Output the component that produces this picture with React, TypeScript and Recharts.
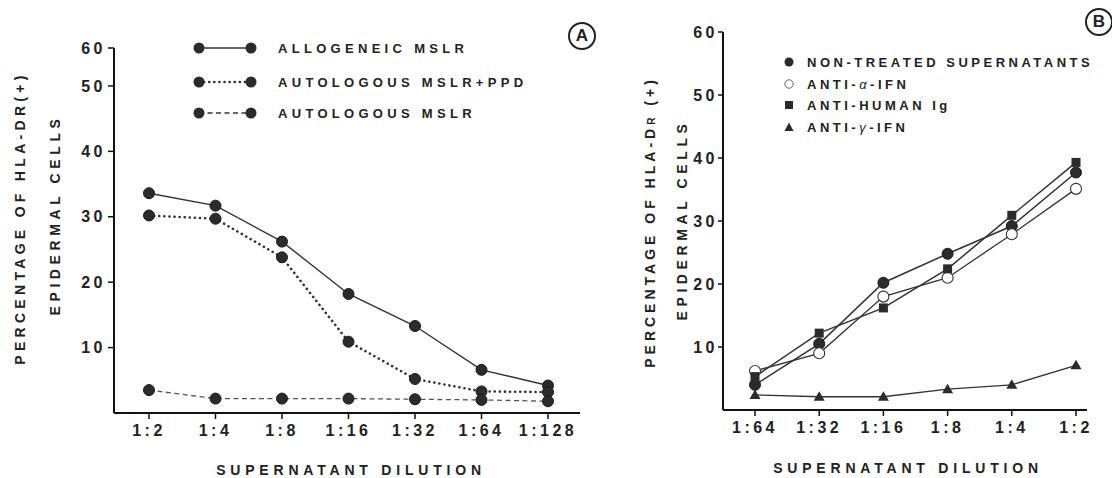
import React from 'react';
import { LineChart, Line, XAxis, YAxis } from 'recharts';

// ---------- Panel A data ----------
const dilutionsA = ['1:2', '1:4', '1:8', '1:16', '1:32', '1:64', '1:128'];
const allogeneicMSLR = [33.6, 31.7, 26.2, 18.2, 13.3, 6.6, 4.2];
const autologousPPD = [30.2, 29.7, 23.8, 10.9, 5.2, 3.3, 3.2];
const autologousMSLR = [3.5, 2.2, 2.2, 2.2, 2.1, 2.0, 1.8];
// the original drawing puts its "60" mark closer to "50" than the linear spacing
const yTickValuesA = [10, 20, 30, 40, 50, 55.8];
const yTickLabelsA = ['10', '20', '30', '40', '50', '60'];

// ---------- Panel B data ----------
const dilutionsB = ['1:64', '1:32', '1:16', '1:8', '1:4', '1:2'];
const nonTreated = [4.0, 10.5, 20.2, 24.8, 29.2, 37.7];
const antiAlphaIFN = [6.2, 9.0, 18.0, 21.0, 27.9, 35.1];
const antiHumanIg = [5.3, 12.2, 16.2, 22.4, 30.9, 39.3];
const antiGammaIFN = [2.4, 2.1, 2.1, 3.3, 4.0, 7.1];
const yTicksB = [10, 20, 30, 40, 50, 60];

const dataA = dilutionsA.map((d, i) => ({
  dil: d,
  allo: allogeneicMSLR[i],
  ppd: autologousPPD[i],
  auto: autologousMSLR[i],
}));

const dataB = dilutionsB.map((d, i) => ({
  dil: d,
  non: nonTreated[i],
  alpha: antiAlphaIFN[i],
  ig: antiHumanIg[i],
  gamma: antiGammaIFN[i],
}));

const FONT = '"Liberation Sans", Arial, Helvetica, sans-serif';
const INK = '#222';

const tickStyle = { fontSize: 16, fontWeight: 700, fill: INK, letterSpacing: 3.5, fontFamily: FONT };

const filledCircle = (r: number) => (props: any) => {
  const { cx, cy, index } = props;
  if (cx == null || cy == null) return <g key={`n${index}`} />;
  return <circle key={`c${index}`} cx={cx} cy={cy} r={r} fill="#2b2b2b" stroke="#1a1a1a" strokeWidth={1} />;
};
const openCircle = (props: any) => {
  const { cx, cy, index } = props;
  return <circle key={`o${index}`} cx={cx} cy={cy} r={5.5} fill="#fff" stroke="#333" strokeWidth={1.1} />;
};
const squareDot = (props: any) => {
  const { cx, cy, index } = props;
  return <rect key={`s${index}`} x={cx - 4.5} y={cy - 4.5} width={9} height={9} fill="#2b2b2b" />;
};
const triangleDot = (props: any) => {
  const { cx, cy, index } = props;
  return <path key={`t${index}`} d={`M${cx},${cy - 5.5} L${cx + 5.5},${cy + 4} L${cx - 5.5},${cy + 4} Z`} fill="#2b2b2b" />;
};

const legendText: React.CSSProperties = {
  fontFamily: FONT,
  fontWeight: 700,
  color: INK,
  whiteSpace: 'nowrap',
};

const LegendA = () => {
  const rows = [
    { label: 'ALLOGENEIC MSLR', dash: undefined as string | undefined, w: 1.4, cap: 'butt' },
    { label: 'AUTOLOGOUS MSLR+PPD', dash: '0.1 5', w: 2.6, cap: 'round' },
    { label: 'AUTOLOGOUS MSLR', dash: '5 3.5', w: 1.3, cap: 'butt' },
  ];
  const tops = [0, 34, 65];
  return (
    <div style={{ position: 'absolute', left: 192, top: 41, width: 400, height: 80 }}>
      {rows.map((r, i) => (
        <div key={r.label} style={{ position: 'absolute', left: 0, top: tops[i], height: 14, display: 'flex', alignItems: 'center' }}>
          <svg width={66} height={14} style={{ display: 'block' }}>
            <line x1={7} y1={7} x2={59} y2={7} stroke="#333" strokeWidth={r.w} strokeDasharray={r.dash} strokeLinecap={r.cap as any} />
            <circle cx={7} cy={7} r={5.5} fill="#2b2b2b" />
            <circle cx={59} cy={7} r={5.5} fill="#2b2b2b" />
          </svg>
          <span style={{ ...legendText, fontSize: 13, letterSpacing: 4.3, marginLeft: 20 }}>{r.label}</span>
        </div>
      ))}
    </div>
  );
};

const LegendB = () => {
  const sym = [
    <circle cx={6} cy={6} r={4.5} fill="#2b2b2b" />,
    <circle cx={6} cy={6} r={4.2} fill="#fff" stroke="#555" strokeWidth={0.9} />,
    <rect x={2} y={2} width={8} height={8} fill="#2b2b2b" />,
    <path d="M6,1.5 L10.5,10 L1.5,10 Z" fill="#2b2b2b" />,
  ];
  const labels = [
    <span>NON-TREATED SUPERNATANTS</span>,
    <span>ANTI-<span style={{ fontWeight: 400, fontStyle: 'italic' }}>α</span>-IFN</span>,
    <span>ANTI-HUMAN Ig</span>,
    <span>ANTI-<span style={{ fontWeight: 400, fontStyle: 'italic' }}>γ</span>-IFN</span>,
  ];
  const tops = [0, 22, 43, 65];
  return (
    <div style={{ position: 'absolute', left: 783, top: 56, width: 330, height: 80 }}>
      {labels.map((l, i) => (
        <div key={i} style={{ position: 'absolute', left: 0, top: tops[i], height: 12, display: 'flex', alignItems: 'center' }}>
          <svg width={12} height={12} style={{ display: 'block' }}>{sym[i]}</svg>
          <span style={{ ...legendText, fontSize: 13, letterSpacing: 3.5, marginLeft: 12 }}>{l}</span>
        </div>
      ))}
    </div>
  );
};

const rotTitle = (x: number, y: number, spacing: number): React.CSSProperties => ({
  position: 'absolute',
  left: x,
  top: y,
  transform: 'translate(-50%, -50%) rotate(-90deg)',
  fontFamily: FONT,
  fontWeight: 700,
  fontSize: 14,
  letterSpacing: spacing,
  color: INK,
  whiteSpace: 'nowrap',
});

const xTitle = (cx: number, cy: number): React.CSSProperties => ({
  position: 'absolute',
  left: cx,
  top: cy,
  transform: 'translate(-50%, -50%)',
  fontFamily: FONT,
  fontWeight: 700,
  fontSize: 14,
  letterSpacing: 4.8,
  color: INK,
  whiteSpace: 'nowrap',
});

const panelLetter = (cx: number, cy: number): React.CSSProperties => ({
  position: 'absolute',
  left: cx - 14,
  top: cy - 14,
  width: 24,
  height: 24,
  border: '2px solid #222',
  borderRadius: '50%',
  display: 'flex',
  alignItems: 'center',
  justifyContent: 'center',
  fontFamily: FONT,
  fontWeight: 700,
  fontSize: 17,
  color: INK,
});

const axisLine = { stroke: '#111', strokeWidth: 2 };
const tickLine = { stroke: '#111', strokeWidth: 1.5 };

export default function App() {
  return (
    <div style={{ position: 'absolute', left: 0, top: 0, width: 1112, height: 478, background: '#fff', overflow: 'hidden' }}>
      {/* Panel A */}
      <div style={{ position: 'absolute', left: 0, top: 0 }}>
        <LineChart width={600} height={478} data={dataA} margin={{ top: 48, right: 20, bottom: 35, left: 54 }}>
          <XAxis
            dataKey="dil"
            padding={{ left: 35, right: 32 }}
            axisLine={axisLine}
            tickLine={tickLine}
            tickSize={6}
            tickMargin={6}
            height={30}
            interval={0}
            tick={tickStyle}
          />
          <YAxis
            type="number"
            domain={[0, 55.8]}
            ticks={yTickValuesA}
            tickFormatter={(v: number) => yTickLabelsA[yTickValuesA.indexOf(v)] ?? String(v)}
            width={60}
            axisLine={axisLine}
            tickLine={tickLine}
            tickSize={6}
            tickMargin={2}
            tick={tickStyle}
          />
          <Line dataKey="allo" name="ALLOGENEIC MSLR" stroke="#333" strokeWidth={1.4} dot={filledCircle(5.5)} isAnimationActive={false} />
          <Line dataKey="ppd" name="AUTOLOGOUS MSLR+PPD" stroke="#333" strokeWidth={2.6} strokeDasharray="0.1 5" strokeLinecap="round" dot={filledCircle(5.5)} isAnimationActive={false} />
          <Line dataKey="auto" name="AUTOLOGOUS MSLR" stroke="#555" strokeWidth={1.3} strokeDasharray="5 3.5" dot={filledCircle(5.5)} isAnimationActive={false} />
        </LineChart>
      </div>

      {/* Panel B */}
      <div style={{ position: 'absolute', left: 600, top: 0 }}>
        <LineChart width={512} height={478} data={dataB} margin={{ top: 32, right: 25, bottom: 38, left: 63 }}>
          <XAxis
            dataKey="dil"
            padding={{ left: 32, right: 11 }}
            axisLine={axisLine}
            tickLine={tickLine}
            tickSize={6}
            tickMargin={6}
            height={30}
            interval={0}
            tick={tickStyle}
          />
          <YAxis
            type="number"
            domain={[0, 60]}
            ticks={yTicksB}
            width={60}
            axisLine={axisLine}
            tickLine={tickLine}
            tickSize={5}
            tickMargin={0}
            tick={tickStyle}
          />
          <Line dataKey="non" name="NON-TREATED SUPERNATANTS" stroke="#333" strokeWidth={1.5} dot={filledCircle(5.5)} isAnimationActive={false} />
          <Line dataKey="alpha" name="ANTI-α-IFN" stroke="#333" strokeWidth={1.3} dot={openCircle} isAnimationActive={false} />
          <Line dataKey="ig" name="ANTI-HUMAN Ig" stroke="#333" strokeWidth={1.5} dot={squareDot} isAnimationActive={false} />
          <Line dataKey="gamma" name="ANTI-γ-IFN" stroke="#333" strokeWidth={1.3} dot={triangleDot} isAnimationActive={false} />
        </LineChart>
      </div>

      <LegendA />
      <LegendB />

      {/* Axis titles */}
      <div style={rotTitle(20, 218, 4.3)}>PERCENTAGE OF HLA-DR(+)</div>
      <div style={rotTitle(55, 215, 4.6)}>EPIDERMAL CELLS</div>
      <div style={rotTitle(650, 222, 4.0)}>
        PERCENTAGE OF HLA-D<span style={{ fontSize: 10 }}>R</span> (+)
      </div>
      <div style={rotTitle(682, 220, 4.6)}>EPIDERMAL CELLS</div>

      <div style={xTitle(351, 470)}>SUPERNATANT DILUTION</div>
      <div style={xTitle(908, 468)}>SUPERNATANT DILUTION</div>

      {/* Panel letters */}
      <div style={panelLetter(582, 36)}>A</div>
      <div style={panelLetter(1099, 22)}>B</div>
    </div>
  );
}
